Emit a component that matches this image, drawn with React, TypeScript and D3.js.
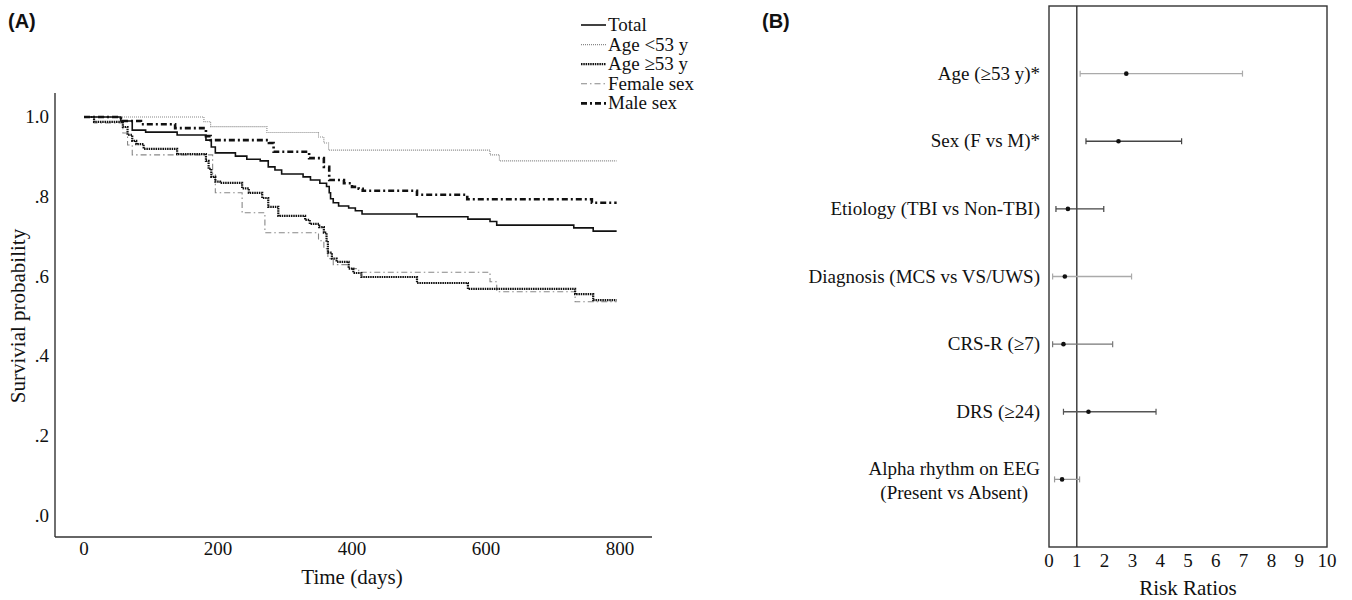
import React, { useEffect, useRef } from "react";
import * as d3 from "d3";

// ---- panel A: Kaplan-Meier curves (day, survival) ----
const xTicks = [0, 200, 400, 600, 800];
const yTicks = [0, 0.2, 0.4, 0.6, 0.8, 1.0];
const yTickLabels = [".0", ".2", ".4", ".6", ".8", "1.0"];
const lastDay = 795;

const totalCurve: [number, number][] = [
  [0, 1.0], [55, 0.99], [72, 0.967], [92, 0.962], [139, 0.955], [182, 0.942], [190, 0.925],
  [196, 0.91], [226, 0.902], [243, 0.894], [263, 0.89], [275, 0.875], [285, 0.867], [295, 0.857],
  [327, 0.85], [338, 0.842], [352, 0.834], [362, 0.826], [366, 0.81], [368, 0.795], [372, 0.785],
  [380, 0.777], [395, 0.772], [405, 0.765], [415, 0.757], [497, 0.75], [573, 0.744], [606, 0.738],
  [616, 0.729], [731, 0.722], [760, 0.714],
];
const youngCurve: [number, number][] = [
  [0, 1.0], [179, 0.988], [189, 0.976], [273, 0.961], [350, 0.95], [358, 0.935], [365, 0.917],
  [606, 0.905], [620, 0.89],
];
const olderCurve: [number, number][] = [
  [0, 1.0], [15, 0.988], [58, 0.975], [65, 0.955], [72, 0.94], [78, 0.932], [89, 0.92],
  [139, 0.907], [182, 0.89], [186, 0.87], [190, 0.85], [196, 0.838], [203, 0.835], [236, 0.821],
  [246, 0.81], [266, 0.797], [275, 0.775], [290, 0.752], [330, 0.742], [337, 0.732], [351, 0.724],
  [358, 0.71], [362, 0.69], [364, 0.66], [370, 0.645], [377, 0.637], [395, 0.62], [402, 0.609],
  [414, 0.599], [497, 0.584], [573, 0.569], [733, 0.556], [760, 0.541],
];
const femaleCurve: [number, number][] = [
  [0, 1.0], [15, 0.985], [58, 0.96], [65, 0.93], [72, 0.905], [192, 0.855], [196, 0.81],
  [236, 0.76], [270, 0.71], [350, 0.69], [358, 0.67], [364, 0.645], [372, 0.63], [395, 0.62],
  [410, 0.611], [606, 0.587], [616, 0.562], [733, 0.537],
];
const maleCurve: [number, number][] = [
  [0, 1.0], [55, 0.99], [85, 0.982], [136, 0.972], [182, 0.952], [189, 0.942], [276, 0.935],
  [283, 0.913], [336, 0.897], [358, 0.875], [366, 0.842], [388, 0.834], [400, 0.825],
  [410, 0.82], [416, 0.815], [497, 0.805], [572, 0.794], [758, 0.785],
];

const seriesNames = ["Total", "Age <53 y", "Age \u226553 y", "Female sex", "Male sex"];
const seriesCurves = [totalCurve, youngCurve, olderCurve, femaleCurve, maleCurve];

// ---- panel B: risk ratios ----
const factors = [
  "Age (\u226553 y)*",
  "Sex (F vs M)*",
  "Etiology (TBI vs Non-TBI)",
  "Diagnosis (MCS vs VS/UWS)",
  "CRS-R (\u22657)",
  "DRS (\u226524)",
  "Alpha rhythm on EEG|(Present vs Absent)",
];
const riskRatio = [2.78, 2.5, 0.68, 0.57, 0.52, 1.42, 0.47];
const ciLow = [1.12, 1.33, 0.25, 0.13, 0.13, 0.52, 0.2];
const ciHigh = [6.96, 4.77, 1.97, 2.97, 2.29, 3.85, 1.1];
const rrTicks = [0, 1, 2, 3, 4, 5, 6, 7, 8, 9, 10];

const lineStyles = [
  { color: "#111", width: 1.6, dash: null },
  { color: "#888", width: 1.1, dash: "1,1" },
  { color: "#111", width: 2.2, dash: "1.5,0.8" },
  { color: "#888", width: 1.1, dash: "6,3,1.5,3" },
  { color: "#111", width: 2.6, dash: "6,3,2,3" },
];
const barShades = ["#aaa", "#444", "#444", "#aaa", "#777", "#555", "#999"];

const serif = "'Liberation Serif', 'Times New Roman', serif";
const sans = "'Liberation Sans', Arial, sans-serif";

export default function App() {
  const ref = useRef<SVGSVGElement>(null);

  useEffect(() => {
    const svg = d3.select(ref.current);
    svg.selectAll("*").remove();

    // ===== Panel A =====
    const x = d3.scaleLinear().domain([0, 800]).range([84, 620]);
    const y = d3.scaleLinear().domain([0, 1]).range([516, 117]);
    const axisX0 = 55;
    const axisY0 = 537;

    svg.append("text").attr("x", 8).attr("y", 28).attr("font-family", sans)
      .attr("font-weight", "bold").attr("font-size", 20).attr("fill", "#111").text("(A)");

    const gA = svg.append("g");
    gA.append("line").attr("x1", axisX0).attr("x2", axisX0).attr("y1", 93).attr("y2", axisY0)
      .attr("stroke", "#333").attr("stroke-width", 1.4);
    gA.append("line").attr("x1", axisX0).attr("x2", 652).attr("y1", axisY0).attr("y2", axisY0)
      .attr("stroke", "#333").attr("stroke-width", 1.4);

    gA.selectAll(".xt").data(xTicks).enter().append("text")
      .attr("x", (d) => x(d)).attr("y", 555).attr("text-anchor", "middle")
      .attr("font-family", serif).attr("font-size", 19).attr("fill", "#111").text((d) => d);
    gA.selectAll(".yt").data(yTicks).enter().append("text")
      .attr("x", 49).attr("y", (d) => y(d) + 6).attr("text-anchor", "end")
      .attr("font-family", serif).attr("font-size", 19).attr("fill", "#111")
      .text((d, i) => yTickLabels[i]);

    gA.append("text").attr("x", 352).attr("y", 584).attr("text-anchor", "middle")
      .attr("font-family", serif).attr("font-size", 21).attr("fill", "#111").text("Time (days)");
    gA.append("text").attr("transform", `translate(25,316) rotate(-90)`).attr("text-anchor", "middle")
      .attr("font-family", serif).attr("font-size", 21).attr("fill", "#111").text("Survivial probability");

    const line = d3.line<[number, number]>()
      .x((d) => x(d[0])).y((d) => y(d[1])).curve(d3.curveStepAfter);

    // draw light ones first, bold ones on top
    [1, 3, 0, 2, 4].forEach((i) => {
      const pts = seriesCurves[i].concat([[lastDay, seriesCurves[i][seriesCurves[i].length - 1][1]]]);
      const st = lineStyles[i];
      gA.append("path").attr("d", line(pts)).attr("fill", "none")
        .attr("stroke", st.color).attr("stroke-width", st.width)
        .attr("stroke-dasharray", st.dash);
    });

    // legend
    const leg = gA.append("g");
    seriesNames.forEach((name, i) => {
      const ly = 25 + i * 19.6;
      const st = lineStyles[i];
      leg.append("line").attr("x1", 581).attr("x2", 606).attr("y1", ly).attr("y2", ly)
        .attr("stroke", st.color).attr("stroke-width", st.width).attr("stroke-dasharray", st.dash);
      leg.append("text").attr("x", 608).attr("y", ly + 6).attr("font-family", serif)
        .attr("font-size", 19).attr("fill", "#111").text(name);
    });

    // ===== Panel B =====
    const rx = d3.scaleLinear().domain([0, 10]).range([1049, 1327]);
    const ry = d3.scalePoint<string>().domain(factors).range([6, 547]).padding(1);

    svg.append("text").attr("x", 762).attr("y", 28).attr("font-family", sans)
      .attr("font-weight", "bold").attr("font-size", 20).attr("fill", "#111").text("(B)");

    const gB = svg.append("g");
    gB.append("rect").attr("x", rx(0)).attr("y", 6).attr("width", rx(10) - rx(0)).attr("height", 541)
      .attr("fill", "none").attr("stroke", "#333").attr("stroke-width", 1.4);
    gB.append("line").attr("x1", rx(1)).attr("x2", rx(1)).attr("y1", 6).attr("y2", 547)
      .attr("stroke", "#333").attr("stroke-width", 1.4);

    gB.selectAll(".rt").data(rrTicks).enter().append("text")
      .attr("x", (d) => rx(d)).attr("y", 567).attr("text-anchor", "middle")
      .attr("font-family", serif).attr("font-size", 19).attr("fill", "#111").text((d) => d);
    gB.append("text").attr("x", 1188).attr("y", 595).attr("text-anchor", "middle")
      .attr("font-family", serif).attr("font-size", 21).attr("fill", "#111").text("Risk Ratios");

    factors.forEach((f, i) => {
      const cy = ry(f) as number;
      const parts = f.split("|");
      if (parts.length === 1) {
        gB.append("text").attr("x", 1040).attr("y", cy + 6).attr("text-anchor", "end")
          .attr("font-family", serif).attr("font-size", 19).attr("fill", "#111").text(f);
      } else {
        const t1 = gB.append("text").attr("x", 1040).attr("y", cy - 4).attr("text-anchor", "end")
          .attr("font-family", serif).attr("font-size", 19).attr("fill", "#111").text(parts[0]);
        const w = (t1.node() as SVGTextElement).getComputedTextLength();
        gB.append("text").attr("x", 1040 - w / 2).attr("y", cy + 20).attr("text-anchor", "middle")
          .attr("font-family", serif).attr("font-size", 19).attr("fill", "#111").text(parts[1]);
      }
      const shade = barShades[i];
      gB.append("line").attr("x1", rx(ciLow[i])).attr("x2", rx(ciHigh[i])).attr("y1", cy).attr("y2", cy)
        .attr("stroke", shade).attr("stroke-width", 1.3);
      [ciLow[i], ciHigh[i]].forEach((v) => {
        gB.append("line").attr("x1", rx(v)).attr("x2", rx(v)).attr("y1", cy - 3).attr("y2", cy + 3)
          .attr("stroke", shade).attr("stroke-width", 1.2);
      });
      gB.append("circle").attr("cx", rx(riskRatio[i])).attr("cy", cy).attr("r", 2.3).attr("fill", "#111");
    });
  }, []);

  return (
    <svg
      ref={ref}
      width={1352}
      height={600}
      style={{ position: "absolute", left: 0, top: 0, background: "#fff" }}
    />
  );
}
